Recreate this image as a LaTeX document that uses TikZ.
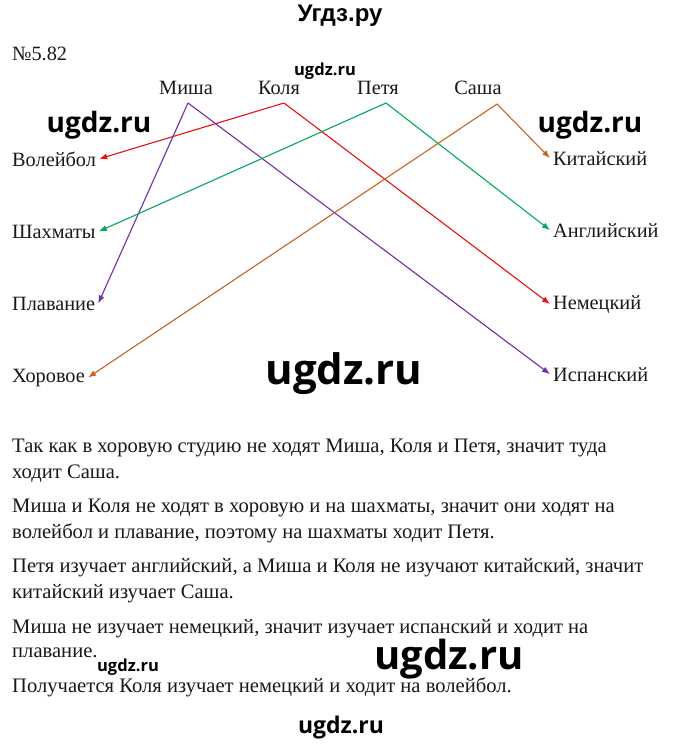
\documentclass[tikz,border=0pt]{standalone}
\usepackage{fontspec}
\setmainfont{Liberation Serif}
\newfontfamily\wmfont{Open Sans}
\newfontfamily\titlefont{Liberation Sans}
\usetikzlibrary{arrows.meta}
\definecolor{cred}{RGB}{232,16,16}
\definecolor{cpurple}{RGB}{112,48,160}
\definecolor{cgreen}{RGB}{0,170,90}
\definecolor{corange}{RGB}{200,100,30}
\begin{document}
\begin{tikzpicture}[x=1pt,y=-1pt,
  txt/.style={inner sep=0pt, font=\fontsize{20.3}{24}\selectfont, text=black!90},
  body/.style={inner sep=0pt, anchor=base west, font=\fontsize{20.6}{24}\selectfont, text=black!90},
  lbl/.style={txt, inner sep=3pt},
  wm/.style={inner sep=0pt, anchor=base, font=\wmfont\bfseries\fontsize{#1}{#1}\selectfont},
  link/.style={line width=1.1pt, -{Latex[length=8pt,width=6pt]}},
]
\useasboundingbox[fill=white] (0,0) rectangle (680,744);
% title
\node[inner sep=0pt, anchor=base, font=\titlefont\bfseries\fontsize{24}{24}\selectfont] (title) at (340,21) {Угдз.ру};
\node[txt, anchor=base west] (num) at (12,60) {№5.82};
% top names
\node[txt, anchor=base] (misha) at (186,94) {Миша};
\node[txt, anchor=base] (kolya) at (279,94) {Коля};
\node[txt, anchor=base] (petya) at (378,94) {Петя};
\node[txt, anchor=base] (sasha) at (478,94) {Саша};
\coordinate (mA) at (188,103);
\coordinate (kA) at (284,103);
\coordinate (pA) at (386,103);
\coordinate (sA) at (497,104);
% left labels
\node[lbl, anchor=base west] (vol) at (9,166) {Волейбол};
\node[lbl, anchor=base west] (sha) at (9,238) {Шахматы};
\node[lbl, anchor=base west] (pla) at (9,310) {Плавание};
\node[lbl, anchor=base west] (hor) at (9,382) {Хоровое};
% right labels
\node[lbl, anchor=base west] (kit) at (550,165) {Китайский};
\node[lbl, anchor=base west] (ang) at (550,237) {Английский};
\node[lbl, anchor=base west] (nem) at (550,309) {Немецкий};
\node[lbl, anchor=base west] (isp) at (550,381) {Испанский};
% links
\draw[link, cred] (kA) -- (vol.east);
\draw[link, cred] (kA) -- (nem.west);
\draw[link, cpurple] (mA) -- (pla.east);
\draw[link, cpurple] (mA) -- (isp.west);
\draw[link, cgreen] (pA) -- (sha.east);
\draw[link, cgreen] (pA) -- (ang.west);
\draw[link, corange] (sA) -- (kit.west);
\draw[link, corange] (sA) -- (hor.east);
% body text
\node[body] (l1) at (12,452) {Так как в хоровую студию не ходят Миша, Коля и Петя, значит туда};
\node[body] (l2) at (12,478) {ходит Саша.};
\node[body] (l3) at (12,512) {Миша и Коля не ходят в хоровую и на шахматы, значит они ходят на};
\node[body] (l4) at (12,538) {волейбол и плавание, поэтому на шахматы ходит Петя.};
\node[body] (l5) at (12,572) {Петя изучает английский, а Миша и Коля не изучают китайский, значит};
\node[body] (l6) at (12,598) {китайский изучает Саша.};
\node[body] (l7) at (12,633) {Миша не изучает немецкий, значит изучает испанский и ходит на};
\node[body] (l8) at (12,657) {плавание.};
\node[body] (l9) at (12,692) {Получается Коля изучает немецкий и ходит на волейбол.};
% watermarks
\node[wm=16.5] (w1) at (325,75) {ugdz.ru};
\node[wm=28] (w2) at (99,132) {ugdz.ru};
\node[wm=28] (w3) at (590,132) {ugdz.ru};
\node[wm=42] (w4) at (344,384) {ugdz.ru};
\node[wm=40] (w5) at (449,669) {ugdz.ru};
\node[wm=16.5] (w6) at (128,671) {ugdz.ru};
\node[wm=23] (w7) at (341,733) {ugdz.ru};
\end{tikzpicture}
\end{document}
